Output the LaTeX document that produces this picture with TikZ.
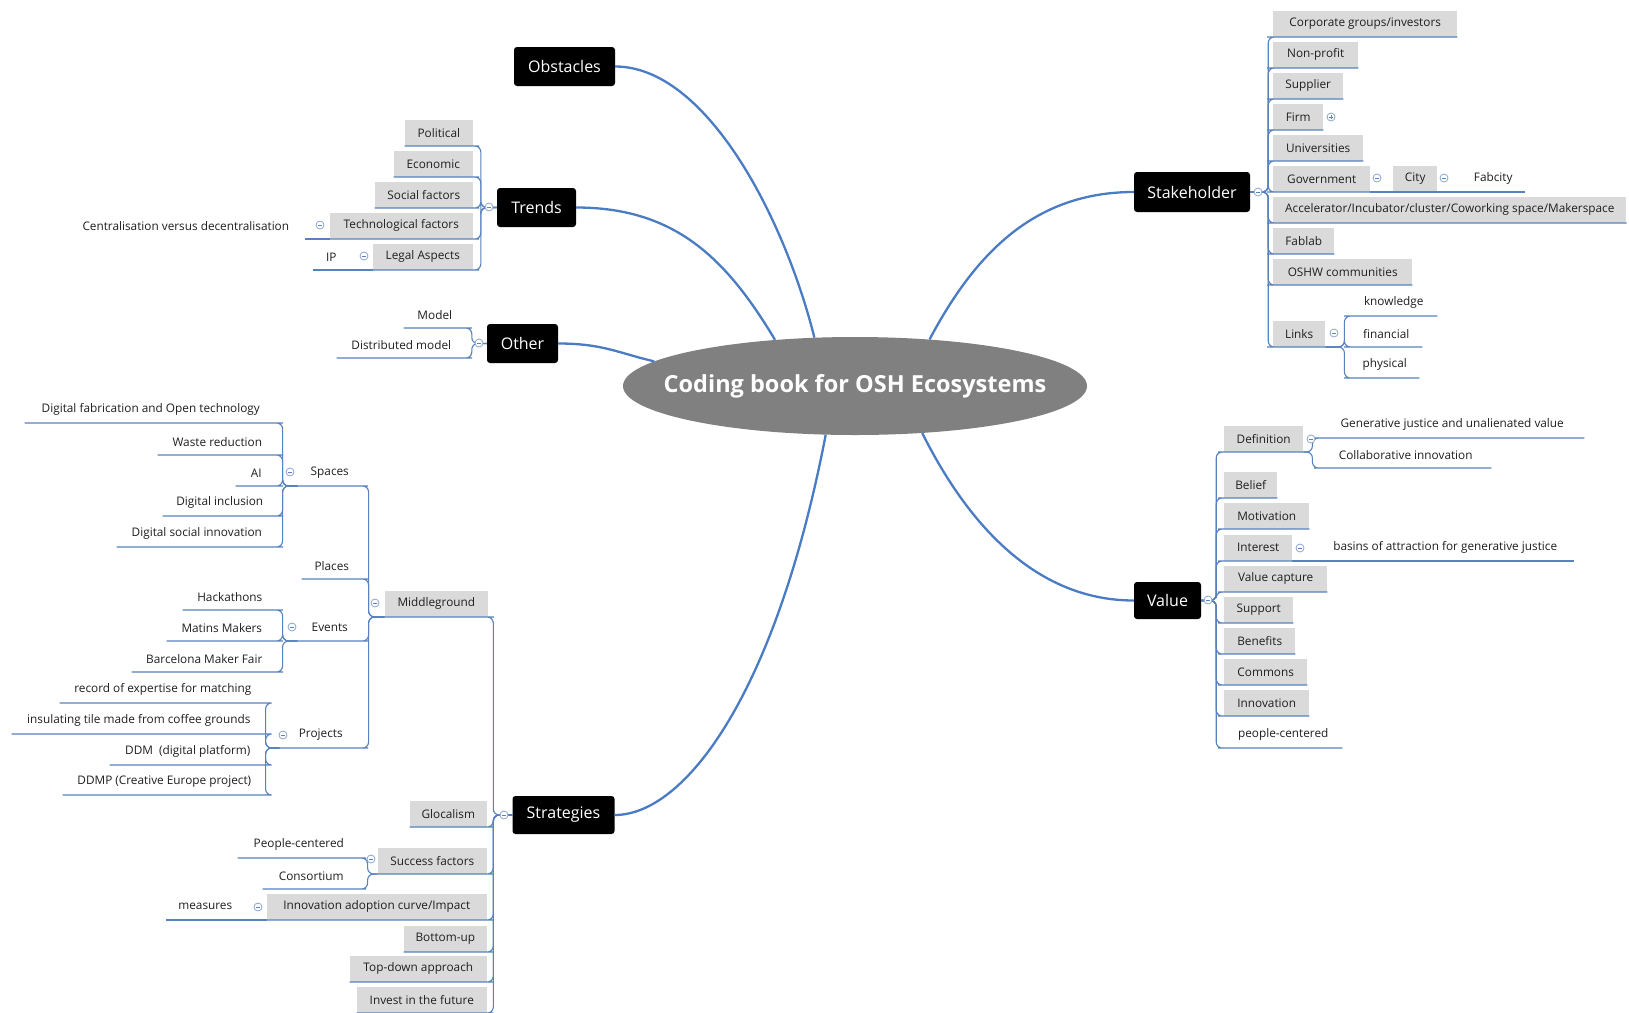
\documentclass[tikz,border=0pt]{standalone}
\usepackage{fontspec}
\setmainfont{Open Sans}
\usetikzlibrary{shapes.geometric}
\definecolor{brl}{RGB}{74,124,196}
\definecolor{sbl}{RGB}{88,130,190}
\definecolor{gbx}{RGB}{218,218,218}
\definecolor{cbd}{RGB}{140,165,205}
\definecolor{elg}{RGB}{128,128,128}
\tikzset{
  sm/.style={font=\fontsize{11.8}{14}\selectfont, text=black!88, inner xsep=0, inner ysep=0, minimum height=26},
  gbox/.style={sm, fill=gbx},
  plain/.style={sm},
  bbox/.style={fill=black, text=white, rounded corners=3, font=\fontsize{16}{18}\selectfont, inner sep=0},
  sub/.style={draw=sbl, line width=1.1, rounded corners=6},
  br/.style={draw=brl, line width=2.3},
  tog/.style={circle, draw=cbd, fill=white, minimum size=8, inner sep=0, line width=0.8,
    path picture={\draw[sbl, line width=0.8] ([xshift=-2.2]path picture bounding box.center) -- ([xshift=2.2]path picture bounding box.center);}},
  togp/.style={circle, draw=cbd, fill=white, minimum size=8, inner sep=0, line width=0.8,
    path picture={\draw[sbl, line width=0.8] ([xshift=-2.2]path picture bounding box.center) -- ([xshift=2.2]path picture bounding box.center)
      ([yshift=-2.2]path picture bounding box.center) -- ([yshift=2.2]path picture bounding box.center);}},
}
\begin{document}
\begin{tikzpicture}[x=1pt,y=-1pt]
\useasboundingbox (0,0) rectangle (1629,1012);
\clip (0,0) rectangle (1629,1012);
\fill[white] (0,0) rectangle (1629,1012);

% central topic
\node[ellipse, fill=elg, minimum width=464, minimum height=98, inner sep=0,
      label={[text=white, font=\bfseries\fontsize{23.5}{27}\selectfont]center:Coding book for OSH Ecosystems}] (c) at (855,386) {};

% main topics
\node[bbox, minimum width=101, minimum height=39] (obs) at (564.5,66.5) {Obstacles};
\node[bbox, minimum width=79, minimum height=39] (trends) at (536.5,207.5) {Trends};
\node[bbox, minimum width=71, minimum height=39] (other) at (522.5,343.5) {Other};
\node[bbox, minimum width=116, minimum height=40] (stake) at (1192,192) {Stakeholder};
\node[bbox, minimum width=67, minimum height=37] (value) at (1167.5,600.5) {Value};
\node[bbox, minimum width=102, minimum height=38] (strat) at (563.5,815) {Strategies};

% Trends
\node[gbox, anchor=south east, minimum width=68] (pol) at (473,146) {Political};
\node[gbox, anchor=south east, minimum width=79] (eco) at (473,177) {Economic};
\node[gbox, anchor=south east, minimum width=98] (soc) at (473,208) {Social factors};
\node[gbox, anchor=south east, minimum width=143] (tech) at (473,239) {Technological factors};
\node[gbox, anchor=south east, minimum width=100] (legal) at (473,270) {Legal Aspects};
\node[plain, anchor=south east, minimum width=238] (cent) at (305,239) {Centralisation versus decentralisation};
\node[plain, anchor=south east, minimum width=37] (ip) at (350,270) {IP};

% Other
\node[plain, anchor=south east, minimum width=62] (model) at (466,328) {Model};
\node[plain, anchor=south east, minimum width=129] (dist) at (466,358) {Distributed model};

% Stakeholder
\node[gbox, anchor=south west, minimum width=184] (corp) at (1273,37) {Corporate groups/investors};
\node[gbox, anchor=south west, minimum width=85] (nonp) at (1273,68) {Non-profit};
\node[gbox, anchor=south west, minimum width=70] (supp) at (1273,99) {Supplier};
\node[gbox, anchor=south west, minimum width=50] (firm) at (1273,130) {Firm};
\node[gbox, anchor=south west, minimum width=90] (univ) at (1273,161) {Universities};
\node[gbox, anchor=south west, minimum width=97] (gov) at (1273,192) {Government};
\node[gbox, anchor=south west, minimum width=44] (city) at (1393,192) {City};
\node[plain, anchor=south west, minimum width=64] (fabc) at (1461,192) {Fabcity};
\node[gbox, anchor=south west, inner xsep=12] (accel) at (1273,223) {Accelerator/Incubator/cluster/Coworking space/Makerspace};
\node[gbox, anchor=south west, minimum width=61] (fablab) at (1273,254) {Fablab};
\node[gbox, anchor=south west, minimum width=139] (oshw) at (1273,285) {OSHW communities};
\node[gbox, anchor=south west, minimum width=52] (links) at (1273,347) {Links};
\node[plain, anchor=south west, minimum width=87] (know) at (1350,316) {knowledge};
\node[plain, anchor=south west, minimum width=72] (fin) at (1350,347) {financial};
\node[plain, anchor=south west, minimum width=69] (phys) at (1350,378) {physical};

% Value
\node[gbox, anchor=south west, minimum width=79] (defn) at (1224,452) {Definition};
\node[plain, anchor=south west, minimum width=264] (gen) at (1320,438) {Generative justice and unalienated value};
\node[plain, anchor=south west, minimum width=171] (collab) at (1320,468) {Collaborative innovation};
\node[gbox, anchor=south west, minimum width=53] (belief) at (1224,498) {Belief};
\node[gbox, anchor=south west, minimum width=85] (motiv) at (1224,529) {Motivation};
\node[gbox, anchor=south west, minimum width=68] (interest) at (1224,561) {Interest};
\node[plain, anchor=south west, minimum width=258] (basins) at (1316,561) {basins of attraction for generative justice};
\node[gbox, anchor=south west, minimum width=103] (vcap) at (1224,592) {Value capture};
\node[gbox, anchor=south west, minimum width=69] (support) at (1224,623) {Support};
\node[gbox, anchor=south west, minimum width=71] (benefits) at (1224,654) {Benefits};
\node[gbox, anchor=south west, minimum width=83] (commons) at (1224,685) {Commons};
\node[gbox, anchor=south west, minimum width=85] (innov) at (1224,716) {Innovation};
\node[plain, anchor=south west, minimum width=118] (peoplec) at (1224,748) {people-centered};

% Strategies
\node[gbox, anchor=south east, minimum width=103] (mid) at (488,617) {Middleground};
\node[gbox, anchor=south east, minimum width=77] (gloc) at (487,827) {Glocalism};
\node[gbox, anchor=south east, minimum width=109] (succ) at (487,874) {Success factors};
\node[gbox, anchor=south east, minimum width=220] (icurve) at (487,920) {Innovation adoption curve/Impact};
\node[gbox, anchor=south east, minimum width=83] (bottom) at (487,952) {Bottom-up};
\node[gbox, anchor=south east, minimum width=137] (topd) at (487,982) {Top-down approach};
\node[gbox, anchor=south east, minimum width=130] (inv) at (487,1013) {Invest in the future};
\node[plain, anchor=south east, minimum width=122] (pc) at (360,858) {People-centered};
\node[plain, anchor=south east, minimum width=97] (cons) at (360,889) {Consortium};
\node[plain, anchor=south east, minimum width=79] (meas) at (245,920) {measures};

% Middleground
\node[plain, anchor=south east, minimum width=64] (spaces) at (362,486) {Spaces};
\node[plain, anchor=south east, minimum width=60] (places) at (362,579) {Places};
\node[plain, anchor=south east, minimum width=64] (events) at (362,641) {Events};
\node[plain, anchor=south east, minimum width=82] (projects) at (362,748) {Projects};
\node[plain, anchor=south east, minimum width=252] (dfab) at (277,423) {Digital fabrication and Open technology};
\node[plain, anchor=south east, minimum width=119] (waste) at (277,455) {Waste reduction};
\node[plain, anchor=south east, minimum width=41] (ai) at (277,486) {AI};
\node[plain, anchor=south east, minimum width=114] (dincl) at (277,516) {Digital inclusion};
\node[plain, anchor=south east, minimum width=160] (dsoc) at (277,547) {Digital social innovation};
\node[plain, anchor=south east, minimum width=94] (hack) at (277,610) {Hackathons};
\node[plain, anchor=south east, minimum width=110] (matins) at (277,641) {Matins Makers};
\node[plain, anchor=south east, minimum width=145] (barca) at (277,672) {Barcelona Maker Fair};
\node[plain, anchor=south east, minimum width=206] (rec) at (266,703) {record of expertise for matching};
\node[plain, anchor=south east, minimum width=254] (ins) at (266,734) {insulating tile made from coffee grounds};
\node[plain, anchor=south east, minimum width=156] (ddm) at (266,765) {DDM~ (digital platform)};
\node[plain, anchor=south east, minimum width=203] (ddmp) at (266,795) {DDMP (Creative Europe project)};

% main branches
\draw[br] (obs.east) .. controls +(91,0) and +(-30,-120) .. (c.130);
\draw[br] (trends.east) .. controls +(100,0) and +(-48,-80) .. (c.150);
\draw[br] (other.east) .. controls +(45,0) and +(-35,-8) .. (c.173);
\draw[br] (stake.west) .. controls +(-100,0) and +(45,-85) .. (c.32);
\draw[br] (value.west) .. controls +(-92,0) and +(50,100) .. (c.-35);
\draw[br] (strat.east) .. controls +(70,0) and +(-50,260) .. (c.239);

% sub connectors
\foreach \n in {pol,eco,soc,tech,legal}
  \draw[sub] (trends.west) -- ++(-16,0) |- (\n.south east) -- (\n.south west);
\draw[sub] (tech.south west) -- (cent.south east);
\draw[sub] (legal.south west) -- (ip.south west);
\foreach \n in {model,dist}
  \draw[sub] (other.west) -- ++(-15,0) |- (\n.south east) -- (\n.south west);
\foreach \n in {corp,nonp,supp,firm,univ,gov,accel,fablab,oshw,links}
  \draw[sub] (stake.east) -- ++(18,0) |- (\n.south west) -- (\n.south east);
\draw[sub] (gov.south east) -- (city.south west) -- (city.south east) -- (fabc.south east);
\foreach \n in {know,fin,phys}
  \draw[sub] (links.south east) -- ++(19,0) |- (\n.south west) -- (\n.south east);
\foreach \n in {defn,belief,motiv,interest,vcap,support,benefits,commons,innov,peoplec}
  \draw[sub] (value.east) -- ++(15,0) |- (\n.south west) -- (\n.south east);
\foreach \n in {gen,collab}
  \draw[sub] (defn.south east) -- ++(9,0) |- (\n.south west) -- (\n.south east);
\draw[sub] (interest.south east) -- (basins.south east);
\foreach \n in {mid,gloc,succ,icurve,bottom,topd,inv}
  \draw[sub] (strat.west) -- ++(-19,0) |- (\n.south east) -- (\n.south west);
\foreach \n in {pc,cons}
  \draw[sub] (succ.south west) -- ++(-10,0) |- (\n.south east) -- (\n.south west);
\draw[sub] (icurve.south west) -- (meas.south west);
\foreach \n in {spaces,places,events,projects}
  \draw[sub] (mid.south west) -- ++(-16,0) |- (\n.south east) -- (\n.south west);
\foreach \n in {dfab,waste,ai,dincl,dsoc}
  \draw[sub] (spaces.south west) -- ++(-15,0) |- (\n.south east) -- (\n.south west);
\foreach \n in {hack,matins,barca}
  \draw[sub] (events.south west) -- ++(-15,0) |- (\n.south east) -- (\n.south west);
\foreach \n in {rec,ins,ddm,ddmp}
  \draw[sub] (projects.south west) -- ++(-14,0) |- (\n.south east) -- (\n.south west);

% collapse toggles
\node[tog] (t1) at (489,207) {};
\node[tog] (t2) at (320,225) {};
\node[tog] (t3) at (364,256) {};
\node[tog] (t4) at (479,343) {};
\node[tog] (t5) at (1258,192) {};
\node[togp] (t6) at (1331,117) {};
\node[tog] (t7) at (1377,178) {};
\node[tog] (t8) at (1444,178) {};
\node[tog] (t9) at (1334,333) {};
\node[tog] (t10) at (1208,600) {};
\node[tog] (t11) at (1311,439) {};
\node[tog] (t12) at (1300,548) {};
\node[tog] (t13) at (504,815) {};
\node[tog] (t14) at (375,603) {};
\node[tog] (t15) at (290,472) {};
\node[tog] (t16) at (292,627) {};
\node[tog] (t17) at (283,735) {};
\node[tog] (t18) at (371,859) {};
\node[tog] (t19) at (258,907) {};
\end{tikzpicture}
\end{document}
